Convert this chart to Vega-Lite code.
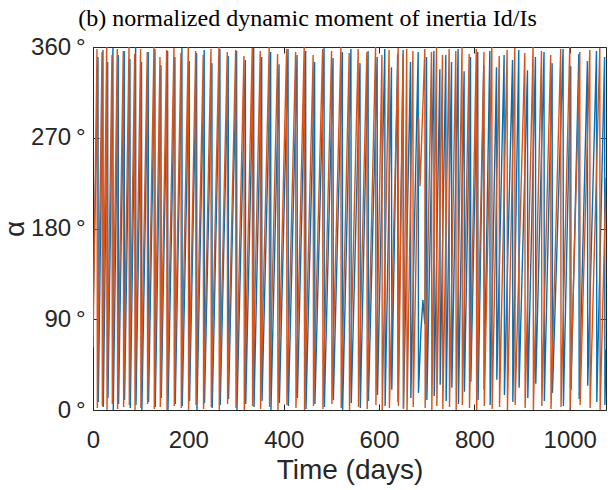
{
  "$schema": "https://vega.github.io/schema/vega-lite/v6.json",
  "width": 513,
  "height": 363,
  "autosize": {"type": "none"},
  "padding": {"left": 93, "top": 47, "right": 2, "bottom": 80},
  "background": "white",
  "title": {"text": "(b) normalized dynamic moment of inertia Id/Is", "font": "Liberation Serif", "fontSize": 24, "fontWeight": "normal", "color": "#000000", "offset": 4, "dx": -42},
  "config": {
    "view": {"stroke": null},
    "axis": {"domainColor": "#262626", "tickColor": "#262626", "labelColor": "#262626", "titleColor": "#262626", "grid": false, "labelFont": "Liberation Sans", "titleFont": "Liberation Sans", "labelFontSize": 24, "titleFontSize": 28, "titleFontWeight": "normal", "tickSize": -6, "domainWidth": 1, "tickWidth": 1}
  },
  "datasets": {
    "blue": [
      {"t":0,"a":95},
      {"t":10.4,"a":350},{"t":11.1,"a":8},
      {"t":20.9,"a":357},{"t":21.6,"a":3},
      {"t":30.7,"a":345},{"t":31.4,"a":12},
      {"t":41.8,"a":359},{"t":42.5,"a":0},
      {"t":52.9,"a":352},{"t":53.6,"a":6},
      {"t":65.5,"a":356},{"t":66.2,"a":10},
      {"t":77.5,"a":348},{"t":78.2,"a":2},
      {"t":89.4,"a":360},{"t":90.1,"a":5},
      {"t":101.8,"a":345},{"t":102.5,"a":0},
      {"t":115.8,"a":355},{"t":116.5,"a":8},
      {"t":129.9,"a":358},{"t":130.6,"a":3},
      {"t":142.5,"a":342},{"t":143.2,"a":12},
      {"t":156.5,"a":356},{"t":157.2,"a":0},
      {"t":171.8,"a":350},{"t":172.5,"a":6},
      {"t":186.5,"a":359},{"t":187.2,"a":4},
      {"t":201.8,"a":346},{"t":202.5,"a":9},
      {"t":217.3,"a":354},{"t":218,"a":0},
      {"t":233.2,"a":357},{"t":233.9,"a":7},
      {"t":249.4,"a":344},{"t":250.1,"a":2},
      {"t":266.2,"a":358},{"t":266.9,"a":5},
      {"t":283.6,"a":351},{"t":284.3,"a":11},
      {"t":301.2,"a":356},{"t":301.9,"a":0},
      {"t":319.6,"a":347},{"t":320.3,"a":6},
      {"t":337,"a":359},{"t":337.7,"a":3},
      {"t":353.8,"a":350},{"t":354.5,"a":9},
      {"t":372.6,"a":355},{"t":373.3,"a":0},
      {"t":390.2,"a":343},{"t":390.9,"a":7},
      {"t":409.1,"a":358},{"t":409.8,"a":4},
      {"t":428,"a":352},{"t":428.7,"a":12},
      {"t":446,"a":356},{"t":446.7,"a":1},
      {"t":464.8,"a":345},{"t":465.5,"a":6},
      {"t":484.6,"a":359},{"t":485.3,"a":3},
      {"t":503.4,"a":349},{"t":504.1,"a":10},
      {"t":522.9,"a":355},{"t":523.6,"a":0},
      {"t":541,"a":358},{"t":541.7,"a":7},
      {"t":560,"a":344},{"t":560.7,"a":2},
      {"t":577,"a":356},{"t":577.7,"a":9},
      {"t":596,"a":350},{"t":596.7,"a":15},
      {"t":612,"a":358},{"t":612.7,"a":4},
      {"t":626,"a":340},{"t":626.7,"a":20},
      {"t":639,"a":353},{"t":639.7,"a":8},
      {"t":650.5,"a":357},{"t":651.2,"a":2},
      {"t":666,"a":345},{"t":666.7,"a":12},
      {"t":682,"a":355},{"t":682.7,"a":17},
      {"t":688,"a":80},{"t":692,"a":109},{"t":696,"a":85},
      {"t":699.6,"a":350},{"t":700.3,"a":10},
      {"t":715,"a":356},{"t":715.7,"a":14},
      {"t":727.5,"a":338},{"t":728.2,"a":25},
      {"t":740,"a":352},{"t":740.7,"a":9},
      {"t":752,"a":345},{"t":752.7,"a":22},
      {"t":765.8,"a":358},{"t":766.5,"a":6},
      {"t":778.4,"a":336},{"t":779.1,"a":18},
      {"t":791.8,"a":350},{"t":792.5,"a":28},
      {"t":807,"a":355},{"t":807.7,"a":10},
      {"t":819.7,"a":342},{"t":820.4,"a":20},
      {"t":832.3,"a":356},{"t":833,"a":5},
      {"t":846.3,"a":340},{"t":847,"a":30},
      {"t":862.3,"a":352},{"t":863,"a":15},
      {"t":879.9,"a":347},{"t":880.6,"a":8},
      {"t":893,"a":357},{"t":893.7,"a":22},
      {"t":911.3,"a":337},{"t":912,"a":12},
      {"t":928,"a":350},{"t":928.7,"a":26},
      {"t":946,"a":355},{"t":946.7,"a":9},
      {"t":963,"a":344},{"t":963.7,"a":17},
      {"t":986,"a":358},{"t":986.7,"a":4},
      {"t":1002,"a":341},{"t":1002.7,"a":20},
      {"t":1019,"a":353},{"t":1019.7,"a":11},
      {"t":1037,"a":346},{"t":1037.7,"a":24},
      {"t":1056,"a":356},{"t":1056.7,"a":8},
      {"t":1073,"a":350},{"t":1073.7,"a":5},
      {"t":1076,"a":60}
    ],
    "orange": [
      {"t":0,"a":62},
      {"t":8.4,"a":358},{"t":9.1,"a":2},
      {"t":18.9,"a":355},{"t":19.6,"a":4},
      {"t":28.7,"a":360},{"t":29.4,"a":0},
      {"t":39.8,"a":352},{"t":40.5,"a":6},
      {"t":50.9,"a":358},{"t":51.6,"a":1},
      {"t":63.5,"a":356},{"t":64.2,"a":3},
      {"t":75.5,"a":360},{"t":76.2,"a":5},
      {"t":87.4,"a":353},{"t":88.1,"a":0},
      {"t":99.8,"a":358},{"t":100.5,"a":2},
      {"t":113.8,"a":355},{"t":114.5,"a":6},
      {"t":127.9,"a":360},{"t":128.6,"a":1},
      {"t":140.5,"a":350},{"t":141.2,"a":3},
      {"t":154.5,"a":357},{"t":155.2,"a":0},
      {"t":169.8,"a":359},{"t":170.5,"a":4},
      {"t":184.5,"a":354},{"t":185.2,"a":2},
      {"t":199.8,"a":360},{"t":200.5,"a":0},
      {"t":215.3,"a":356},{"t":216,"a":5},
      {"t":231.2,"a":352},{"t":231.9,"a":1},
      {"t":247.4,"a":358},{"t":248.1,"a":3},
      {"t":264.2,"a":360},{"t":264.9,"a":0},
      {"t":281.6,"a":355},{"t":282.3,"a":6},
      {"t":299.2,"a":357},{"t":299.9,"a":2},
      {"t":316.6,"a":351},{"t":317.3,"a":0},
      {"t":334,"a":359},{"t":334.7,"a":4},
      {"t":350.8,"a":356},{"t":351.5,"a":1},
      {"t":369.6,"a":360},{"t":370.3,"a":3},
      {"t":387.2,"a":353},{"t":387.9,"a":0},
      {"t":406.1,"a":358},{"t":406.8,"a":5},
      {"t":425,"a":355},{"t":425.7,"a":2},
      {"t":443,"a":360},{"t":443.7,"a":0},
      {"t":461.8,"a":352},{"t":462.5,"a":4},
      {"t":481.6,"a":358},{"t":482.3,"a":1},
      {"t":500.4,"a":356},{"t":501.1,"a":6},
      {"t":519.9,"a":360},{"t":520.6,"a":2},
      {"t":537.3,"a":354},{"t":538,"a":0},
      {"t":556.2,"a":358},{"t":556.9,"a":3},
      {"t":574.4,"a":355},{"t":575.1,"a":1},
      {"t":592.7,"a":360},{"t":593.4,"a":5},
      {"t":606,"a":352},{"t":606.7,"a":0},
      {"t":621,"a":357},{"t":621.7,"a":2},
      {"t":640,"a":359},{"t":640.7,"a":4},
      {"t":650.5,"a":353},{"t":651.2,"a":1},
      {"t":658,"a":358},{"t":658.7,"a":0},
      {"t":671,"a":356},{"t":671.7,"a":3},
      {"t":683,"a":290},{"t":686,"a":222},
      {"t":696,"a":358},{"t":696.7,"a":2},
      {"t":710,"a":355},{"t":710.7,"a":0},
      {"t":720.5,"a":360},{"t":721.2,"a":4},
      {"t":733,"a":352},{"t":733.7,"a":1},
      {"t":747,"a":358},{"t":747.7,"a":3},
      {"t":761,"a":356},{"t":761.7,"a":0},
      {"t":774,"a":360},{"t":774.7,"a":5},
      {"t":789,"a":353},{"t":789.7,"a":2},
      {"t":804,"a":358},{"t":804.7,"a":0},
      {"t":820,"a":355},{"t":820.7,"a":4},
      {"t":836.5,"a":360},{"t":837.2,"a":1},
      {"t":852,"a":351},{"t":852.7,"a":3},
      {"t":868.6,"a":357},{"t":869.3,"a":0},
      {"t":884.7,"a":359},{"t":885.4,"a":5},
      {"t":905.7,"a":354},{"t":906.4,"a":2},
      {"t":923,"a":360},{"t":923.7,"a":0},
      {"t":940.7,"a":356},{"t":941.4,"a":4},
      {"t":960,"a":352},{"t":960.7,"a":1},
      {"t":981,"a":358},{"t":981.7,"a":3},
      {"t":1000,"a":360},{"t":1000.7,"a":0},
      {"t":1021,"a":355},{"t":1021.7,"a":5},
      {"t":1042,"a":357},{"t":1042.7,"a":2},
      {"t":1063,"a":359},{"t":1063.7,"a":0},
      {"t":1076,"a":230}
    ]
  },
  "layer": [
    {
      "data": {"name": "blue"},
      "mark": {"type": "line", "color": "#0072BD", "strokeWidth": 1.4, "clip": true},
      "encoding": {
        "x": {"field": "t", "type": "quantitative", "scale": {"domain": [0, 1076], "nice": false, "zero": false},
              "axis": {"orient": "bottom", "values": [0, 200, 400, 600, 800, 1000], "format": "d", "title": "Time (days)", "labelPadding": 24, "titlePadding": 4, "labelFlush": false}},
        "y": {"field": "a", "type": "quantitative", "scale": {"domain": [0, 360], "nice": false},
              "axis": {"orient": "left", "values": [0, 90, 180, 270, 360], "labelExpr": "datum.value + '\u2009°'", "title": "α", "labelPadding": 14, "titlePadding": 1, "labelFlush": false}}
      }
    },
    {
      "data": {"name": "orange"},
      "mark": {"type": "line", "color": "#D95319", "strokeWidth": 1.4, "clip": true},
      "encoding": {
        "x": {"field": "t", "type": "quantitative", "scale": {"domain": [0, 1076], "nice": false, "zero": false},
              "axis": {"orient": "top", "values": [0, 200, 400, 600, 800, 1000], "labels": false, "title": null}},
        "y": {"field": "a", "type": "quantitative", "scale": {"domain": [0, 360], "nice": false},
              "axis": {"orient": "right", "values": [0, 90, 180, 270, 360], "labels": false, "title": null}}
      }
    }
  ],
  "resolve": {"axis": {"x": "independent", "y": "independent"}}
}
